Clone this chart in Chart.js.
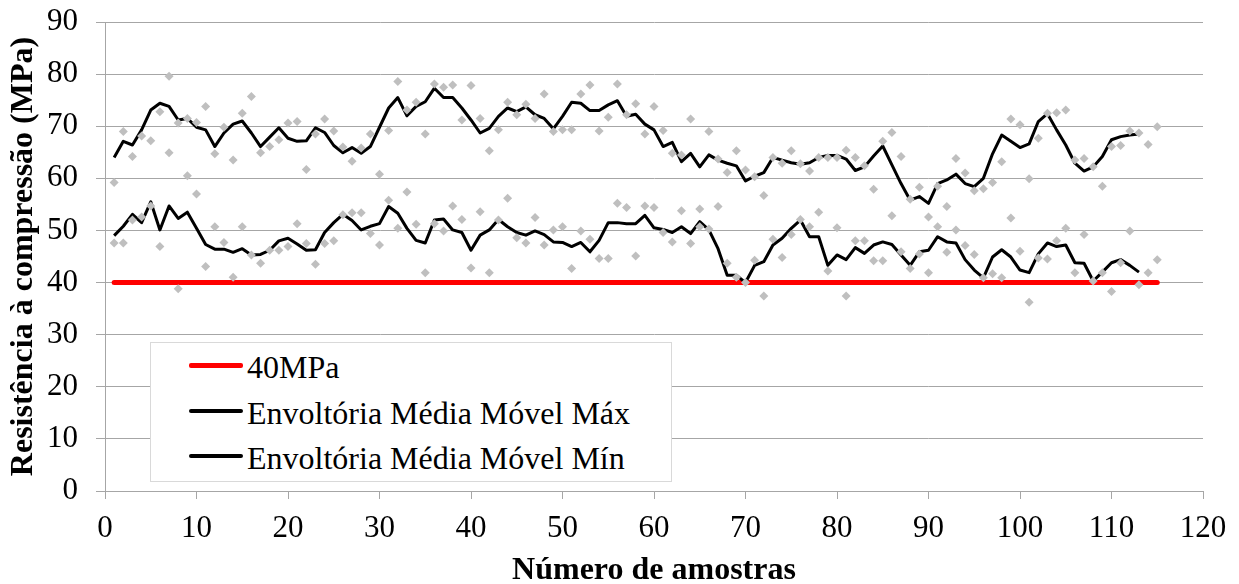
<!DOCTYPE html>
<html>
<head>
<meta charset="utf-8">
<script src="https://cdn.jsdelivr.net/npm/chart.js@4.4.0/dist/chart.umd.min.js"></script>
<style>
  body { margin: 0; background: #fff; }
  #wrap { position: relative; width: 1239px; height: 584px; }
  #legend {
    position: absolute; left: 150px; top: 342px; width: 522px; height: 140px;
    border: 1px solid #d9d9d9; background: #fff; box-sizing: border-box;
    font-family: "Times New Roman", "Liberation Serif", Tinos, "DejaVu Serif", serif;
    font-size: 32px; color: #000;
  }
  .row { position: absolute; left: 38px; height: 30px; display: flex; align-items: center; white-space: nowrap; }
  .swatch { width: 54px; height: 4px; background: #000; margin-right: 4px; border-radius: 2px; position: relative; top: -2px; }
</style>
</head>
<body>
<div id="wrap">
  <canvas id="chart" width="1239" height="584"></canvas>
  <div id="legend">
    <div class="row" style="top:9px"><span class="swatch" style="background:#ff0000;height:5px"></span>40MPa</div>
    <div class="row" style="top:55px"><span class="swatch"></span>Envoltória Média Móvel Máx</div>
    <div class="row" style="top:100px"><span class="swatch"></span>Envoltória Média Móvel Mín</div>
  </div>
</div>
<script>
// amostras (1..115): valores máximos e mínimos
const sampleMax = [
  59.2, 69, 64.2, 68.1, 67.2, 72.8, 79.6, 70.6, 71.5, 70.7,
  73.8, 64.7, 69.8, 63.5, 72.5, 75.7, 64.9, 66.1, 67.4, 70.6,
  70.9, 61.7, 68.5, 71.4, 69.1, 66, 63.3, 65.8, 68.5, 60.8,
  69.2, 78.6, 73.1, 74.6, 68.5, 78.1, 77.5, 77.9, 71.2, 77.8,
  71.5, 65.3, 69.3, 74.6, 72.2, 74.2, 71.5, 76.2, 69, 69.3,
  69.3, 76.2, 77.9, 69.1, 71.7, 78.1, 72.2, 74.3, 68.5, 73.8,
  69.2, 64.8, 64.5, 71.4, 54.1, 69, 63.7, 61.1, 65.3, 61.6,
  60.3, 56.7, 64, 62.9, 65.3, 62.8, 61.4, 64, 64, 64,
  65.4, 64, 62.4, 57.9, 67.1, 68.8, 64.2, 56, 58.3, 52.6,
  58.5, 54.6, 63.8, 61, 57.6, 58, 59.2, 63.2, 71.4, 70.3,
  59.9, 67.7, 72.5, 72.6, 73.1, 63.5, 63.8, 62.2, 58.5, 66.1,
  66.3, 69.1, 68.7, 66.5, 69.9
];
const sampleMin = [
  47.6, 47.6, 52, 52.6, 54.7, 46.9, 64.9, 38.8, 60.5, 57,
  43.1, 50.7, 47.7, 41, 50.7, 45.3, 43.7, 46.2, 46.2, 46.9,
  51.3, 47.5, 43.5, 47.5, 48, 53, 53.4, 53.4, 49.4, 47.2,
  55.8, 50.4, 57.4, 51.2, 41.9, 51.3, 49.9, 54.7, 52.1, 42.8,
  53.6, 41.9, 52, 56.2, 48.6, 47.6, 52.5, 47.2, 50.1, 50.7,
  42.7, 49.9, 48.3, 44.6, 44.6, 55.2, 54.4, 45.1, 54.7, 54.4,
  49.6, 47.8, 53.8, 47.5, 50.7, 50.3, 54.6, 43.7, 41, 40,
  44.3, 37.4, 48.3, 44.8, 49.2, 52.1, 50.7, 53.5, 42.2, 50.5,
  37.4, 48, 48, 44.2, 44.2, 52.8, 45.9, 42.7, 45.5, 41.9,
  50.7, 45.8, 50.1, 47.1, 45.4, 40.9, 41.7, 40.9, 52.4, 46,
  36.2, 44.7, 44.5, 48, 50.4, 41.9, 49.2, 40.3, 41.9, 38.3,
  43.8, 49.9, 39.6, 41.9, 44.4
];
// envoltórias (média móvel), x = 1..113
const envMax = [
  64, 67.1, 66.4, 69.3, 73.1, 74.4, 73.8, 71.2, 71.5, 69.8,
  69.3, 66.1, 68.7, 70.4, 71, 68.7, 66.1, 67.9, 69.7, 67.7,
  67.1, 67.2, 69.7, 68.8, 66.3, 64.9, 65.9, 64.8, 66.1, 69.8,
  73.5, 75.5, 72, 73.8, 74.7, 77.3, 75.5, 75.5, 73.5, 71.2,
  68.7, 69.6, 71.9, 73.5, 72.8, 73.7, 72.2, 71.5, 69.5, 71.9,
  74.6, 74.4, 73, 73, 74.1, 74.9, 71.9, 72.3, 70.4, 69.3,
  66.1, 66.9, 63.2, 64.8, 62.2, 64.5, 63.5, 62.9, 62.4, 59.5,
  60.4, 61.1, 64, 63.5, 63, 62.7, 63, 64, 64.4, 64.4,
  63.7, 61.5, 62.2, 64.3, 66.2, 62.6, 59, 55.8, 56.5, 55.2,
  59, 59.7, 60.8, 59, 58.4, 60, 64.7, 68.3, 67.1, 65.9,
  66.6, 70.9, 72.4, 69.3, 66.4, 62.9, 61.4, 62.2, 64.2, 67.4,
  68, 68.3, 68.5
];
const envMin = [
  49, 50.8, 53.1, 51.5, 55.5, 50.1, 54.7, 52.3, 53.5, 50.4,
  47.3, 46.4, 46.4, 45.8, 46.5, 45.3, 45.4, 46.2, 48, 48.5,
  47.4, 46.2, 46.3, 49.6, 51.5, 53.1, 51.9, 50.1, 50.8, 51.3,
  54.6, 53.3, 50.4, 48.1, 47.6, 52, 52.2, 50.1, 49.6, 46.2,
  49.1, 50.1, 52.1, 50.7, 49.6, 49.1, 49.9, 49.2, 47.8, 47.7,
  46.9, 47.7, 45.9, 48.1, 51.5, 51.5, 51.3, 51.3, 52.9, 50.5,
  50.2, 49.6, 50.7, 49.4, 51.7, 50.1, 46.5, 41.4, 41.4, 40,
  43.3, 44, 47.2, 48.5, 50.4, 52, 48.8, 48.8, 43.3, 45.3,
  44.4, 46.7, 45.6, 47.2, 47.8, 47.3, 45.3, 43.3, 45.9, 46.2,
  48.8, 47.8, 47.6, 44.4, 42.4, 40.9, 44.9, 46.3, 44.9, 42.4,
  41.9, 45.5, 47.6, 46.9, 47.2, 43.8, 43.7, 40.3, 42, 43.8,
  44.4, 43.3, 42
];
const limitValue = 40;
const limitRange = [1, 115];
const xTicks = { min: 0, max: 120, step: 10 };
const yTicks = { min: 0, max: 90, step: 10 };

const toPoints = (arr) => arr.map((v, i) => ({ x: i + 1, y: v }));

const serif = "'Times New Roman', 'Liberation Serif', Tinos, 'DejaVu Serif', serif";
const gridGray = '#a6a6a6';

new Chart(document.getElementById('chart'), {
  type: 'scatter',
  data: {
    datasets: [
      {
        label: 'Máx',
        data: toPoints(sampleMax),
        pointStyle: 'rectRot', pointRadius: 4.5,
        backgroundColor: '#bfbfbf', borderColor: '#bfbfbf', borderWidth: 0,
        showLine: false, order: 1
      },
      {
        label: 'Mín',
        data: toPoints(sampleMin),
        pointStyle: 'rectRot', pointRadius: 4.5,
        backgroundColor: '#bfbfbf', borderColor: '#bfbfbf', borderWidth: 0,
        showLine: false, order: 1
      },
      {
        label: 'Envoltória Média Móvel Máx',
        data: toPoints(envMax),
        showLine: true, borderColor: '#000', borderWidth: 3, pointRadius: 0,
        borderJoinStyle: 'round', order: 2
      },
      {
        label: 'Envoltória Média Móvel Mín',
        data: toPoints(envMin),
        showLine: true, borderColor: '#000', borderWidth: 3, pointRadius: 0,
        borderJoinStyle: 'round', order: 2
      },
      {
        label: '40MPa',
        data: limitRange.map(x => ({ x: x, y: limitValue })),
        showLine: true, borderColor: '#ff0000', borderWidth: 5, pointRadius: 0,
        borderCapStyle: 'round', order: 3
      }
    ]
  },
  options: {
    responsive: false,
    animation: false,
    layout: { padding: { left: 0, top: 22, right: 36, bottom: 0 } },
    plugins: { legend: { display: false }, tooltip: { enabled: false } },
    scales: {
      x: {
        type: 'linear', min: xTicks.min, max: xTicks.max,
        afterFit: (s) => { s.height = 93; s.paddingLeft = 0; s.paddingRight = 0; },
        ticks: { stepSize: xTicks.step, color: '#000', font: { family: serif, size: 31 }, padding: 11, maxRotation: 0 },
        grid: { drawOnChartArea: false, color: gridGray, tickLength: 8 },
        border: { color: gridGray },
        title: { display: true, text: 'Número de amostras', color: '#000', font: { family: serif, size: 32, weight: 'bold', lineHeight: 0.8 }, padding: { top: 0, bottom: 0 } }
      },
      y: {
        min: yTicks.min, max: yTicks.max,
        afterFit: (s) => { s.width = 105; s.paddingTop = 0; s.paddingBottom = 0; },
        ticks: { stepSize: yTicks.step, color: '#000', font: { family: serif, size: 31 }, padding: 18 },
        grid: { color: gridGray, tickLength: 9 },
        border: { color: gridGray },
        title: { display: true, text: 'Resistência à compressão (MPa)', color: '#000', font: { family: serif, size: 32, weight: 'bold' }, padding: { top: 5, bottom: 0 } }
      }
    }
  }
});
</script>
</body>
</html>
